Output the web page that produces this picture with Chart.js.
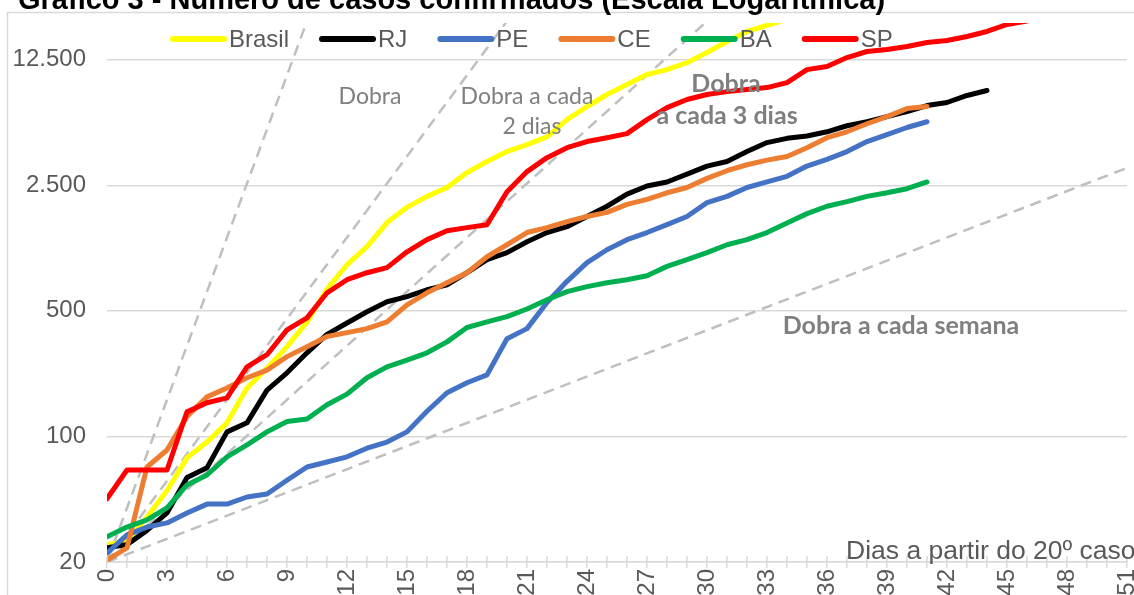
<!DOCTYPE html>
<html lang="pt-BR">
<head>
<meta charset="utf-8">
<title>Gráfico 3 - Número de casos confirmados</title>
<script src="https://cdn.jsdelivr.net/npm/chart.js@4.4.1/dist/chart.umd.min.js"></script>
<style>
  html, body { margin: 0; padding: 0; background: #fff; overflow: hidden; }
  #wrap { position: relative; width: 1134px; height: 595px; }
</style>
</head>
<body>
<div id="wrap"><canvas id="casesChart"></canvas></div>
<script>
// casos confirmados por dia, a partir do 20º caso (dia 0)
const brasil = [25, 26, 35.6, 50, 76, 93, 119, 186, 240, 316, 434, 660, 903, 1138, 1550, 1884, 2168, 2430, 2940, 3390, 3850, 4212, 4650, 5800, 6860, 8000, 9100, 10340, 11000, 12030, 13700, 15780, 17940, 19380, 21000];
const rj = [24, 25, 30, 37.5, 59, 67, 106, 119, 181, 226, 292, 370, 428, 494, 562, 600, 655, 698, 815, 964, 1054, 1212, 1364, 1470, 1676, 1910, 2230, 2476, 2608, 2884, 3196, 3390, 3850, 4320, 4560, 4700, 4960, 5360, 5640, 6020, 6420, 6940, 7220, 7900, 8420];
const pe = [22.4, 28.3, 31.3, 33, 37.5, 42, 42, 46, 47.8, 57, 67.6, 72, 77, 86, 93, 106, 138, 175, 199, 220, 350, 398, 556, 730, 928, 1094, 1245, 1364, 1508, 1676, 2000, 2168, 2430, 2608, 2804, 3196, 3484, 3850, 4376, 4780, 5240, 5640];
const ce = [20.5, 24, 67.6, 84, 129, 166, 186, 212, 234, 278, 316, 360, 378, 398, 434, 540, 630, 716, 815, 1000, 1166, 1364, 1452, 1570, 1676, 1766, 1958, 2086, 2270, 2430, 2730, 3012, 3252, 3450, 3610, 4046, 4600, 4960, 5500, 6020, 6680, 6860];
const ba = [27.6, 31.3, 34.3, 40, 53.7, 61, 77, 89.8, 106, 121, 125, 150, 172, 212, 244, 266, 292, 336, 404, 434, 464, 512, 576, 640, 682, 716, 745, 784, 884, 964, 1054, 1166, 1245, 1364, 1540, 1738, 1910, 2026, 2168, 2270, 2392, 2608];
const sp = [45, 65, 65, 65, 137, 154, 164, 244, 285, 392, 457, 630, 745, 815, 870, 1066, 1245, 1396, 1452, 1508, 2302, 2978, 3560, 4046, 4376, 4600, 4846, 5800, 6760, 7500, 8000, 8300, 8520, 8740, 9320, 11000, 11450, 12840, 13880, 14230, 14800, 15580, 15990, 16820, 17940, 19620, 20500];

const seriesNames = ["Brasil", "RJ", "PE", "CE", "BA", "SP"];
const seriesColors = ["#FFFF00", "#000000", "#4472C4", "#ED7D31", "#00B050", "#FF0000"];

// linhas de referência (dobra a cada 1, 2, 3 e 7 dias): início e fim
const refDays = [[0, 10], [0, 20], [0, 30], [0, 51]];
const refCases = [[20, 20480], [20, 20480], [20, 20480], [20, 3122]];

const yTicks = [20, 100, 500, 2500, 12500];
const xLabels = [0, 3, 6, 9, 12, 15, 18, 21, 24, 27, 30, 33, 36, 39, 42, 45, 48, 51];

const notes = [
  { text: "Dobra", day: 13.15, cases: 7790, bold: false },
  { text: "Dobra a cada", day: 21.0, cases: 7790, bold: false },
  { text: "2 dias", day: 21.25, cases: 5300, bold: false },
  { text: "Dobra", day: 30.95, cases: 9200, bold: true },
  { text: "a cada 3 dias", day: 31.0, cases: 6100, bold: true },
  { text: "Dobra a cada semana", day: 39.7, cases: 413, bold: true },
];

const axisFont = { family: "'Liberation Sans', Arial, sans-serif", size: 24 };
const textGray = "#595959";
const gridGray = "#D9D9D9";

const toPoints = (arr) => arr.map((v, i) => ({ x: i, y: v }));
const fmt = (v) => String(v).replace(/\B(?=(\d{3})+(?!\d))/g, ".");

const seriesData = [brasil, rj, pe, ce, ba, sp];
const datasets = seriesData.map((arr, i) => ({
  label: seriesNames[i],
  data: toPoints(arr),
  borderColor: seriesColors[i],
  backgroundColor: seriesColors[i],
  borderWidth: 5,
  pointRadius: 0,
  tension: 0,
  borderJoinStyle: "round",
  borderCapStyle: "round",
  order: 5 - i, // SP por cima
}));
refDays.forEach((days, i) => {
  datasets.push({
    label: "ref" + i,
    data: days.map((d, j) => ({ x: d, y: refCases[i][j] })),
    borderColor: "#BFBFBF",
    borderWidth: 2.5,
    borderDash: [11, 7],
    pointRadius: 0,
    order: 10,
  });
});

const decorations = {
  id: "decorations",
  beforeDraw(chart) {
    const { ctx, width, height } = chart;
    ctx.save();
    ctx.fillStyle = "#fff";
    ctx.fillRect(0, 0, width, height);
    // moldura do gráfico
    ctx.strokeStyle = gridGray;
    ctx.lineWidth = 1.5;
    ctx.beginPath();
    ctx.moveTo(7.5, height);
    ctx.lineTo(7.5, 12.5);
    ctx.lineTo(width, 12.5);
    ctx.stroke();
    ctx.restore();
  },
  afterDatasetsDraw(chart) {
    const { ctx, scales: { x, y } } = chart;
    ctx.save();
    // metade superior dos traços do eixo x
    ctx.strokeStyle = gridGray;
    ctx.lineWidth = 1.5;
    x.ticks.forEach((t) => {
      const px = x.getPixelForValue(t.value);
      ctx.beginPath();
      ctx.moveTo(px, y.bottom - 6);
      ctx.lineTo(px, y.bottom);
      ctx.stroke();
    });
    // anotações
    ctx.fillStyle = "#7F7F7F";
    ctx.textAlign = "center";
    ctx.textBaseline = "middle";
    notes.forEach((n) => {
      ctx.font = n.bold ? "bold 25px Lato, 'Open Sans', sans-serif" : "23px Lato, 'Open Sans', sans-serif";
      ctx.fillText(n.text, x.getPixelForValue(n.day), y.getPixelForValue(n.cases));
    });
    // título do eixo x
    ctx.fillStyle = textGray;
    ctx.font = "26.5px 'Liberation Sans', Arial, sans-serif";
    ctx.textAlign = "left";
    ctx.textBaseline = "alphabetic";
    ctx.fillText("Dias a partir do 20º caso", x.getPixelForValue(36.95), y.bottom - 3);
    ctx.restore();
  },
  afterDraw(chart) {
    const { ctx } = chart;
    ctx.save();
    // legenda
    let lx = 170;
    const ly = 39;
    ctx.font = "24px 'Liberation Sans', Arial, sans-serif";
    ctx.textBaseline = "middle";
    ctx.textAlign = "left";
    seriesNames.forEach((name, i) => {
      ctx.strokeStyle = seriesColors[i];
      ctx.lineWidth = 6;
      ctx.lineCap = "round";
      ctx.beginPath();
      ctx.moveTo(lx + 3, ly);
      ctx.lineTo(lx + 54, ly);
      ctx.stroke();
      ctx.fillStyle = textGray;
      ctx.fillText(name, lx + 59, ly + 1);
      lx += 59 + ctx.measureText(name).width + 30;
    });
    // título
    ctx.fillStyle = "#000";
    ctx.font = "bold 29px 'Liberation Sans', Arial, sans-serif";
    ctx.textBaseline = "alphabetic";
    ctx.fillText("Gráfico 3 - Número de casos confirmados (Escala Logarítmica)", 18, 9);
    ctx.restore();
  },
};

new Chart(document.getElementById("casesChart").getContext("2d"), {
  type: "line",
  data: { datasets },
  options: {
    responsive: true,
    maintainAspectRatio: false,
    animation: false,
    layout: { padding: { left: 0, top: 23, right: 7, bottom: 0 } },
    plugins: {
      legend: { display: false },
      tooltip: { enabled: false },
      title: { display: false },
    },
    scales: {
      x: {
        type: "linear",
        min: 0,
        max: 51,
        afterFit: (s) => {
          s.height = 33;
          s.paddingLeft = 0;
          s.paddingRight = 0;
        },
        border: { display: true, color: gridGray, width: 1.5 },
        grid: { drawOnChartArea: false, drawTicks: true, tickLength: 6, color: gridGray, lineWidth: 1.5 },
        ticks: {
          stepSize: 1,
          maxTicksLimit: 100,
          autoSkip: false,
          minRotation: 90,
          maxRotation: 90,
          padding: 1,
          font: axisFont,
          color: textGray,
          callback: (v) => (xLabels.includes(v) ? String(v) : ""),
        },
      },
      y: {
        type: "logarithmic",
        min: 20,
        max: 20000,
        bounds: "data",
        afterBuildTicks: (s) => {
          s.ticks = yTicks.map((v) => ({ value: v }));
        },
        afterFit: (s) => {
          s.width = 107;
          s.paddingTop = 0;
          s.paddingBottom = 0;
        },
        border: { display: false },
        grid: { color: gridGray, lineWidth: 1.5, drawTicks: false },
        ticks: { padding: 21, font: axisFont, color: textGray, callback: (v) => fmt(v) },
      },
    },
  },
  plugins: [decorations],
});
</script>
</body>
</html>
